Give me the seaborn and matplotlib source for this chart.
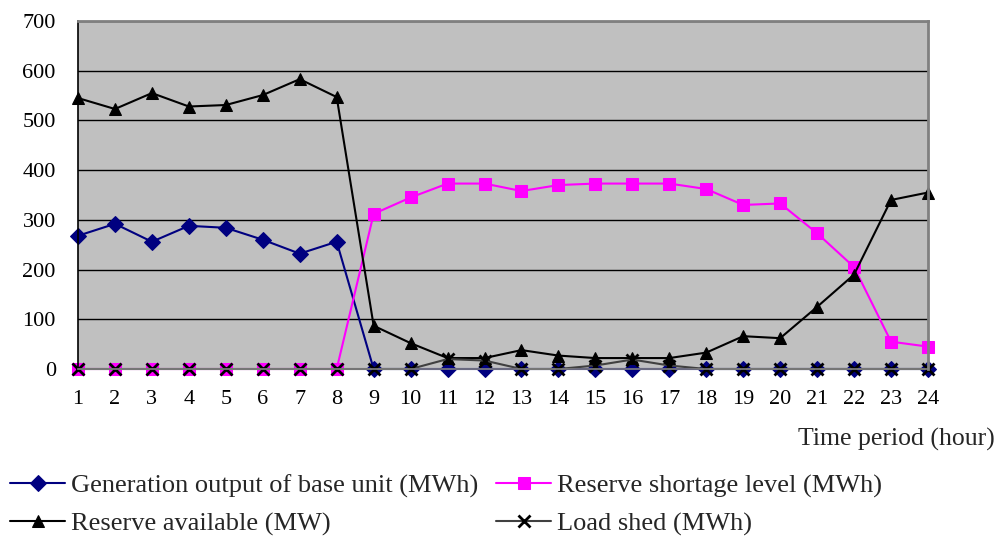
import matplotlib
matplotlib.use("Agg")
import matplotlib.pyplot as plt
import seaborn as sns
import pandas as pd

# Hourly results of the dispatch study
hours = list(range(1, 25))
generation_base = [268, 292, 256, 288, 284, 260, 232, 256,
                   0, 0, 0, 0, 0, 0, 0, 0, 0, 0, 0, 0, 0, 0, 0, 0]
reserve_shortage = [0, 0, 0, 0, 0, 0, 0, 0,
                    312, 345, 373, 373, 358, 370, 373, 373, 373, 362,
                    330, 333, 273, 205, 55, 45]
reserve_available = [545, 523, 555, 528, 531, 551, 583, 547,
                     87, 52, 22, 22, 38, 27, 22, 22, 22, 33,
                     66, 62, 125, 190, 340, 355]
load_shed = [0, 0, 0, 0, 0, 0, 0, 0,
             0, 0, 20, 17, 0, 0, 7, 19, 7, 0,
             0, 0, 0, 0, 0, 0]

series_names = ["Generation output of base unit (MWh)",
                "Reserve shortage level (MWh)",
                "Reserve available (MW)",
                "Load shed (MWh)"]
y_ticks = [0, 100, 200, 300, 400, 500, 600, 700]

sns.set_theme(style="white")
plt.rcParams["font.family"] = ["Liberation Serif", "DejaVu Serif"]
plt.rcParams["font.size"] = 16

df = pd.DataFrame({
    "hour": hours,
    series_names[0]: generation_base,
    series_names[1]: reserve_shortage,
    series_names[2]: reserve_available,
    series_names[3]: load_shed,
})

fig = plt.figure(figsize=(10.03, 5.38), dpi=100)
ax = fig.add_axes([78 / 1003, 1 - 369 / 538, (928 - 78) / 1003, (369 - 21) / 538])
ax.set_facecolor("#C0C0C0")

styles = [
    dict(color="#000080", marker="D", markersize=8, markeredgecolor="#000080",
         markerfacecolor="#000080", linewidth=1.5),
    dict(color="#FF00FF", marker="s", markersize=8, markeredgecolor="#FF00FF",
         markerfacecolor="#FF00FF", linewidth=1.5),
    dict(color="#000000", marker="^", markersize=9, markeredgecolor="#000000",
         markerfacecolor="#000000", linewidth=1.5),
    dict(color="#404040", marker="x", markersize=8, markeredgecolor="#000000",
         markeredgewidth=2, linewidth=1.5),
]

for name, st in zip(series_names, styles):
    sns.lineplot(data=df, x="hour", y=name, ax=ax, label=name, clip_on=False, **st)

ax.set_xlim(1, 24)
ax.set_ylim(0, 700)
ax.set_xticks(hours)
ax.set_yticks(y_ticks)
ax.yaxis.grid(True, color="black", linewidth=1.0)
ax.set_axisbelow(True)
ax.tick_params(axis="both", length=0, labelsize=16, colors="black")
ax.tick_params(axis="x", pad=15)
ax.tick_params(axis="y", pad=16)
ax.set_xlabel("")
ax.set_ylabel("")

for side in ["top", "right"]:
    ax.spines[side].set_color("#808080")
    ax.spines[side].set_linewidth(2)
ax.spines["left"].set_color("black")
ax.spines["left"].set_linewidth(1.2)
ax.spines["bottom"].set_color("#808080")
ax.spines["bottom"].set_linewidth(1.2)

fig.text(995 / 1003, 1 - 439 / 538, "Time period (hour)", ha="right",
         va="center", fontsize=18.5)

# Legend laid out row by row: matplotlib fills columns first, so reorder
handles, labels = ax.get_legend_handles_labels()
ax.get_legend().remove()
order = [0, 2, 1, 3]
fig.legend([handles[i] for i in order], [labels[i] for i in order],
           loc="upper left", ncol=2,
           bbox_to_anchor=(10 / 1003, 1 - 474 / 538), frameon=False,
           fontsize=19, handlelength=2.1, handletextpad=0.2,
           columnspacing=0.68, labelspacing=0.53, borderaxespad=0,
           borderpad=0.0)

fig.savefig("out.png", dpi=100)
